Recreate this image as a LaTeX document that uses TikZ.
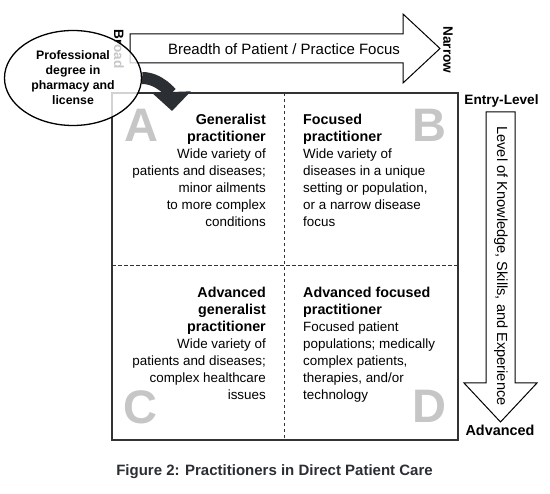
\documentclass[tikz,border=0pt]{standalone}
\usepackage{fontspec}
\setmainfont{Liberation Sans}
\usetikzlibrary{shapes.geometric,arrows.meta}
\definecolor{dk}{HTML}{2B2E33}
\definecolor{lettergray}{HTML}{C6C6C6}
\definecolor{boxline}{HTML}{333333}
\newcommand\hdfont{\fontsize{14.3}{17}\selectfont\bfseries}
\begin{document}
\begin{tikzpicture}[x=1pt,y=-1pt,
  bodytxt/.style={font=\fontsize{13.4}{17}\selectfont, inner sep=0pt},
  bigletter/.style={font=\fontsize{47}{47}\selectfont\bfseries, text=lettergray, inner sep=0pt},
  fatarrow/.style={draw=black, line width=1pt, fill=white, line join=miter},
  axislabel/.style={font=\fontsize{13.6}{15}\selectfont\bfseries, inner sep=0pt},
  divider/.style={draw=boxline, line width=0.9pt, dash pattern=on 3.5pt off 2.5pt}]
\useasboundingbox (0,0) rectangle (550,494);
\fill[white] (0,0) rectangle (550,494);

% main box and dividers
\draw[boxline, line width=1.4pt] (112,93) rectangle (458,440);
\coordinate (vtop) at (284,93);
\coordinate (vbot) at (284,440);
\coordinate (hl) at (112,265);
\coordinate (hr) at (458,265);
\draw[divider] (vtop) -- (vbot);
\draw[divider] (hl) -- (hr);

% big letters
\node[bigletter] (LA) at (141.5,125) {A};
\node[bigletter] (LB) at (429.5,125) {B};
\node[bigletter] (LC) at (140.5,407.5) {C};
\node[bigletter] (LD) at (429,406.5) {D};

% quadrant texts (anchor = baseline of last line)
\node[bodytxt, align=right, anchor=base east] (qa) at (266,226.5)
  {{\hdfont Generalist}\\{\hdfont practitioner}\\Wide variety of\\patients and diseases;\\minor ailments\\to more complex\\conditions};
\node[bodytxt, align=left, anchor=base west] (qb) at (303,226.5)
  {{\hdfont Focused}\\{\hdfont practitioner}\\Wide variety of\\diseases in a unique\\setting or population,\\or a narrow disease\\focus};
\node[bodytxt, align=right, anchor=base east] (qc) at (266,400)
  {{\hdfont Advanced}\\{\hdfont generalist}\\{\hdfont practitioner}\\Wide variety of\\patients and diseases;\\complex healthcare\\issues};
\node[bodytxt, align=left, anchor=base west] (qd) at (303,400)
  {{\hdfont Advanced focused}\\{\hdfont practitioner}\\Focused patient\\populations; medically\\complex patients,\\therapies, and/or\\technology};

% top arrow
\draw[fatarrow] (130,34) -- (403,34) -- (403,14) -- (440,48.5) -- (403,83) -- (403,63) -- (130,63) -- cycle;
\node[font=\fontsize{15}{17}\selectfont, inner sep=0pt, anchor=base] (breadth) at (284,54.5) {Breadth of Patient / Practice Focus};
\node[axislabel, rotate=-90] (broad) at (119,49) {Broad};
\node[axislabel, rotate=-90] (narrow) at (448,50) {Narrow};

% right arrow
\draw[fatarrow] (486,112) -- (515,112) -- (515,383) -- (537,383) -- (500.5,422) -- (464,383) -- (486,383) -- cycle;
\node[font=\fontsize{14.6}{17}\selectfont, inner sep=0pt, rotate=-90] (level) at (501,266) {Level of Knowledge, Skills, and Experience};
\node[axislabel, anchor=base] (entry) at (501.5,104.5) {Entry-Level};
\node[axislabel, font=\fontsize{14.4}{15}\selectfont\bfseries, anchor=base] (adv) at (500,436) {Advanced};

% ellipse
\node[ellipse, draw=black, line width=1.3pt, fill=white, fill opacity=0.78, text opacity=1,
  minimum width=137pt, minimum height=95pt, inner sep=0pt, align=center,
  font=\fontsize{12.3}{15}\selectfont\bfseries] (ell) at (73,78)
  {Professional\\degree in\\pharmacy and\\license};

% curved arrow
\coordinate (tipA) at (172,111);
\draw[dk, line width=12pt, -{Triangle[length=19pt,width=38pt]}] (ell.east) to[out=0,in=92] (tipA);

% caption
\node[font=\fontsize{15}{17}\selectfont\bfseries, inner sep=0pt, anchor=base, text=dk] (cap) at (274.5,476)
  {Figure 2: Practitioners in Direct Patient Care};
\end{tikzpicture}
\end{document}
